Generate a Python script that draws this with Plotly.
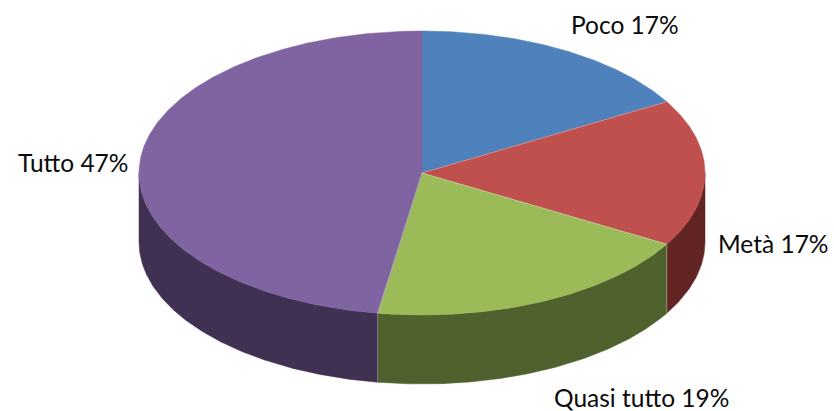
import math
import plotly.graph_objects as go

categories = ["Poco", "Metà", "Quasi tutto", "Tutto"]
shares = [16.6, 16.7, 19.1, 47.4]

top_colors = ["#4F81BD", "#C0504D", "#9BBB59", "#8064A2"]
side_colors = ["#2C4D75", "#632523", "#4F612D", "#403152"]

W, H = 834, 411
CX, CY, RX, RY, DEPTH = 422, 173, 283, 142, 69
LABEL_ANCHORS = [(625, 24), (773, 243), (641, 397), (73, 162)]
EDGE = "rgba(255,255,255,0.3)"


def point(deg, drop=0):
    a = math.radians(deg)
    return CX + RX * math.sin(a), CY - RY * math.cos(a) + drop


def arc(a0, a1, drop=0):
    n = max(2, int(abs(a1 - a0) * 2) + 1)
    return [point(a0 + (a1 - a0) * i / (n - 1), drop) for i in range(n)]


fig = go.Figure()
start = 0.0
total = sum(shares)
spans = []
for v in shares:
    end = start + 360 * v / total
    spans.append((start, end))
    start = end

# Visible outer wall: front half of the cylinder only
for (a0, a1), side in zip(spans, side_colors):
    lo, hi = max(a0, 90), min(a1, 270)
    if lo >= hi:
        continue
    pts = arc(lo, hi) + arc(hi, lo, DEPTH)
    pts.append(pts[0])
    fig.add_trace(go.Scatter(x=[p[0] for p in pts], y=[p[1] for p in pts], mode="lines",
                             fill="toself", fillcolor=side, line=dict(color=side, width=0.5),
                             hoverinfo="skip", showlegend=False))

# Vertical seams between wall sections
for (a0, a1) in spans:
    if 90 < a1 < 270:
        p, q = point(a1), point(a1, DEPTH)
        fig.add_trace(go.Scatter(x=[p[0], q[0]], y=[p[1], q[1]], mode="lines",
                                 line=dict(color=EDGE, width=1), hoverinfo="skip", showlegend=False))

# Top face
for (a0, a1), top in zip(spans, top_colors):
    pts = [(CX, CY)] + arc(a0, a1) + [(CX, CY)]
    fig.add_trace(go.Scatter(x=[p[0] for p in pts], y=[p[1] for p in pts], mode="lines",
                             fill="toself", fillcolor=top, line=dict(color=top, width=0.5),
                             hoverinfo="skip", showlegend=False))

# Thin light radii between slices (none at the top seam)
for (a0, a1) in spans[:-1]:
    p = point(a1)
    fig.add_trace(go.Scatter(x=[CX, p[0]], y=[CY, p[1]], mode="lines",
                             line=dict(color=EDGE, width=1), hoverinfo="skip", showlegend=False))

for name, v, (x, y) in zip(categories, shares, LABEL_ANCHORS):
    fig.add_annotation(x=x, y=y, text=f"{name} {round(v)}%", showarrow=False,
                       xanchor="center", yanchor="middle",
                       font=dict(family="Lato, Carlito, sans-serif", size=24.5, color="#0a0a0a"))

fig.update_layout(width=W, height=H, margin=dict(l=0, r=0, t=0, b=0),
                  paper_bgcolor="white", plot_bgcolor="white", showlegend=False,
                  xaxis=dict(range=[0, W], visible=False, fixedrange=True),
                  yaxis=dict(range=[H, 0], visible=False, fixedrange=True))
fig.write_html("out.html", config={"displayModeBar": False},
               post_script="document.body.style.margin='0';document.documentElement.style.overflow='hidden';")
